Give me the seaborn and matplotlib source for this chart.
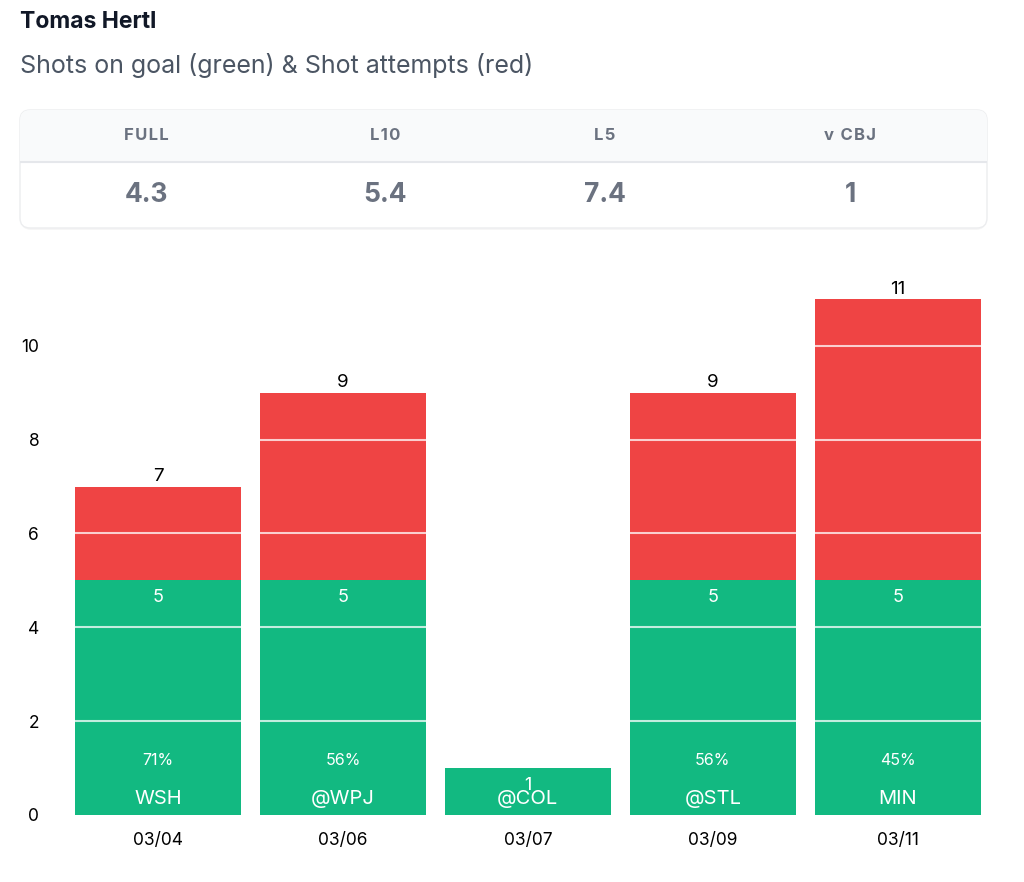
import numpy as np
import pandas as pd
import matplotlib
matplotlib.use("Agg")
import matplotlib.pyplot as plt
import seaborn as sns
from matplotlib.patches import FancyBboxPatch, Rectangle

# Data
dates = ["03/04", "03/06", "03/07", "03/09", "03/11"]
opponents = ["WSH", "@WPJ", "@COL", "@STL", "MIN"]
shots_on_goal = [5, 5, 1, 5, 5]
shot_attempts = [7, 9, 1, 9, 11]

stat_names = ["FULL", "L10", "L5", "v CBJ"]
stat_values = ["4.3", "5.4", "7.4", "1"]

GREEN = "#12B981"
RED = "#EF4444"

sns.set_theme(style="white")
plt.rcParams["font.family"] = ["Inter", "DejaVu Sans"]

df = pd.DataFrame({"date": dates, "opp": opponents,
                   "sog": shots_on_goal, "attempts": shot_attempts})

fig = plt.figure(figsize=(10.24, 8.82), dpi=100)

# Title block
fig.text(20 / 1024, 1 - 22 / 882, "Tomas Hertl", fontsize=16.5, weight="bold",
         color="#111827", va="center")
fig.text(20 / 1024, 1 - 65 / 882, "Shots on goal (green) & Shot attempts (red)",
         fontsize=18, color="#4B5563", va="center")

# Stats card
card = fig.add_axes([20 / 1024, (882 - 228) / 882, 967 / 1024, 118 / 882])
card.set_xlim(0, 967)
card.set_ylim(0, 118)
card.axis("off")
shadow = FancyBboxPatch((1, -2), 965, 119, boxstyle="round,pad=0,rounding_size=10",
                        fc="#000000", ec="none", alpha=0.035, clip_on=False)
card.add_patch(shadow)
body = FancyBboxPatch((0, 0), 967, 118, boxstyle="round,pad=0,rounding_size=10",
                      fc="white", ec="#ECEDEF", lw=1, clip_on=False)
card.add_patch(body)
header = Rectangle((0, 66), 967, 52, fc="#F9FAFB", ec="none")
card.add_patch(header)
header.set_clip_path(body)
card.plot([0, 967], [66, 66], color="#E5E7EB", lw=1.5)
col_x = [126, 365, 585, 830]
for cx, name, val in zip(col_x, stat_names, stat_values):
    spaced = "\u200a".join(name)
    card.text(cx, 92, spaced, ha="center", va="center",
              fontsize=12, weight="bold", color="#6B7280")
    card.text(cx, 33, val, ha="center", va="center", fontsize=19,
              weight="bold", color="#6B7280")

# Bar chart
ax = fig.add_axes([0.064, 0.076, 0.903, 0.617])
sns.barplot(data=df, x="date", y="attempts", color=RED, width=0.9,
            saturation=1, linewidth=0, ax=ax)
sns.barplot(data=df, x="date", y="sog", color=GREEN, width=0.9,
            saturation=1, linewidth=0, ax=ax)

for y in [2, 4, 6, 8, 10]:
    ax.axhline(y, color="white", lw=1.5, alpha=0.75, zorder=3)

ax.set_ylim(0, 11.6)
ax.set_xlim(-0.5, 4.5)
ax.set_yticks([0, 2, 4, 6, 8, 10])
ax.set_xlabel("")
ax.set_ylabel("")
ax.tick_params(axis="y", length=0, pad=19, labelsize=12.5, labelcolor="black")
ax.tick_params(axis="x", length=0, pad=12, labelsize=12.5, labelcolor="black")
sns.despine(ax=ax, left=True, bottom=True)
ax.grid(False)

for i, row in df.iterrows():
    if row["attempts"] > row["sog"]:
        ax.annotate(str(row["attempts"]), (i, row["attempts"]), xytext=(0, 1),
                    textcoords="offset points", ha="center", va="bottom",
                    fontsize=13.5, color="black", zorder=5)
        pct = round(100 * row["sog"] / row["attempts"])
        ax.annotate(f"{pct}%", (i, 0), xytext=(0, 39),
                    textcoords="offset points", ha="center", va="center",
                    fontsize=11.5, color="white", zorder=5)
    ax.annotate(str(row["sog"]), (i, row["sog"]), xytext=(0, -12.5),
                textcoords="offset points", ha="center", va="center",
                fontsize=13, color="white", zorder=5)
    ax.annotate(row["opp"], (i, 0), xytext=(0, 11.5),
                textcoords="offset points", ha="center", va="center",
                fontsize=14.5, color="white", zorder=5)

fig.savefig("out.png", dpi=100, facecolor="white")
